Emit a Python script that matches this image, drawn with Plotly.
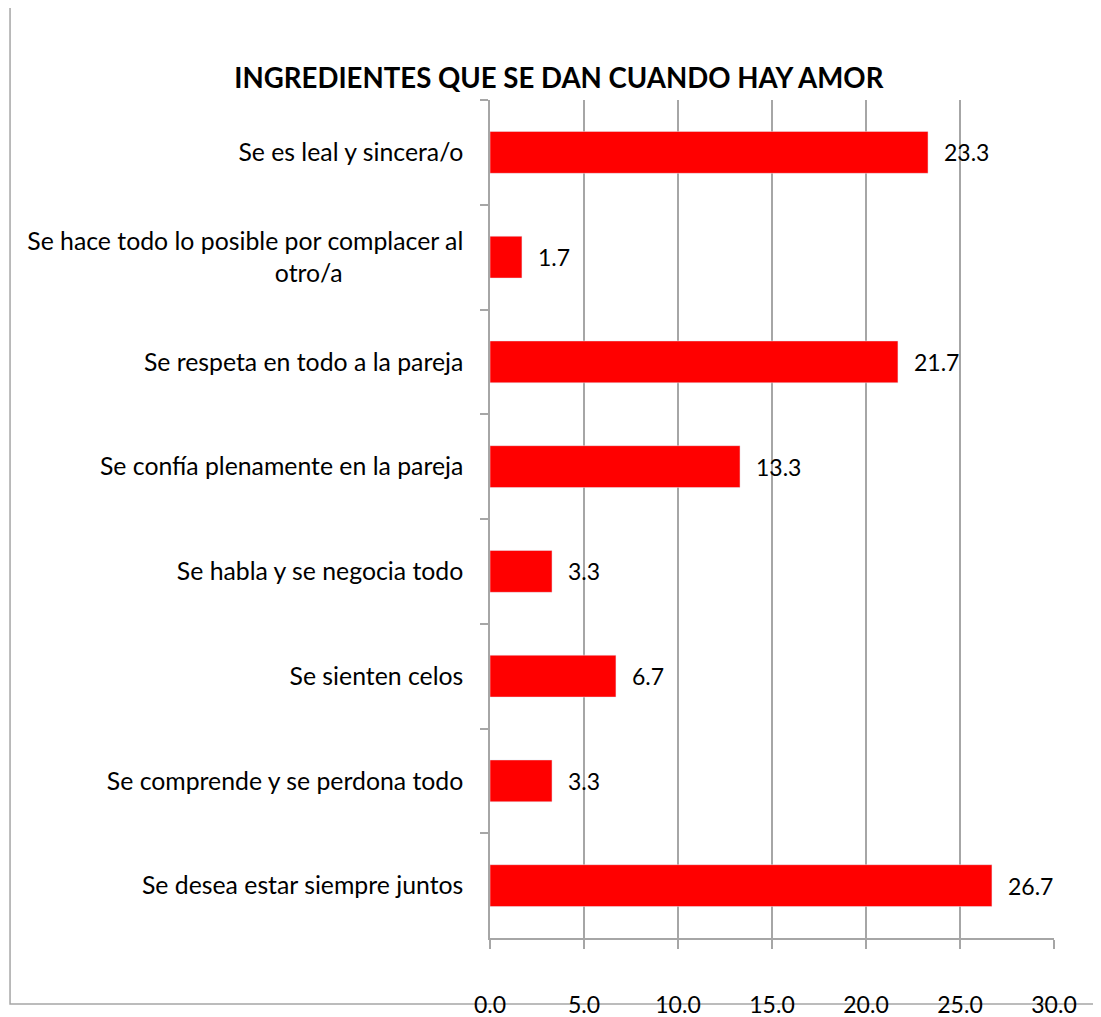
import plotly.graph_objects as go

categorias = [
    "Se es leal y sincera/o",
    "Se hace todo lo posible por complacer al<br>otro/a" + "\u00a0" * 19,
    "Se respeta en todo a la pareja",
    "Se confía plenamente en la pareja",
    "Se habla y se negocia todo",
    "Se sienten celos",
    "Se comprende y se perdona todo",
    "Se desea estar siempre juntos",
]
valores = [23.3, 1.7, 21.7, 13.3, 3.3, 6.7, 3.3, 26.7]
ticks_x = [0, 5, 10, 15, 20, 25, 30]

gris = "#a6a6a6"
fuente = "Lato"

fig = go.Figure(go.Bar(
    x=valores, y=categorias, orientation="h",
    marker_color="#ff0000", width=0.4,
))

# etiquetas de datos a la derecha de cada barra
for cat, v in zip(categorias, valores):
    fig.add_annotation(x=v, y=cat, text=f"{v:.1f}", showarrow=False,
                       xanchor="left", xshift=14,
                       font=dict(family=fuente, size=23, color="black"))

# marco del gráfico (sale por la derecha)
fig.add_shape(type="rect", xref="paper", yref="paper",
              x0=-0.851, x1=1.3, y0=-0.0788, y1=1.111,
              line=dict(color=gris, width=1.5), layer="below")

fig.update_layout(
    width=1093, height=1009,
    margin=dict(l=482, r=47, t=92, b=79),
    paper_bgcolor="white", plot_bgcolor="white",
    showlegend=False,
    title=dict(text="<b>INGREDIENTES QUE SE DAN CUANDO HAY AMOR</b>",
               x=0.504, xanchor="center", y=0.9306, yanchor="middle",
               font=dict(family=fuente, size=27.6, color="black")),
    font=dict(family=fuente, size=23, color="black"),
)
fig.update_xaxes(range=[0, 30], tickvals=ticks_x, tickformat=".1f",
                 showgrid=True, gridcolor=gris, gridwidth=1.5,
                 showline=True, linecolor=gris, linewidth=1.5,
                 ticks="outside", ticklen=9, tickcolor=gris, tickwidth=1.5,
                 ticklabelstandoff=37, zeroline=False, automargin=False,
                 tickfont=dict(family=fuente, size=23, color="black"))
fig.update_yaxes(autorange="reversed", showgrid=False,
                 showline=True, linecolor=gris, linewidth=1.5,
                 ticks="outside", tickson="boundaries", ticklen=8,
                 tickcolor=gris, tickwidth=1.5, ticklabelstandoff=20,
                 automargin=False,
                 tickfont=dict(family=fuente, size=24.8, color="black"))

fig.write_html("out.html")
